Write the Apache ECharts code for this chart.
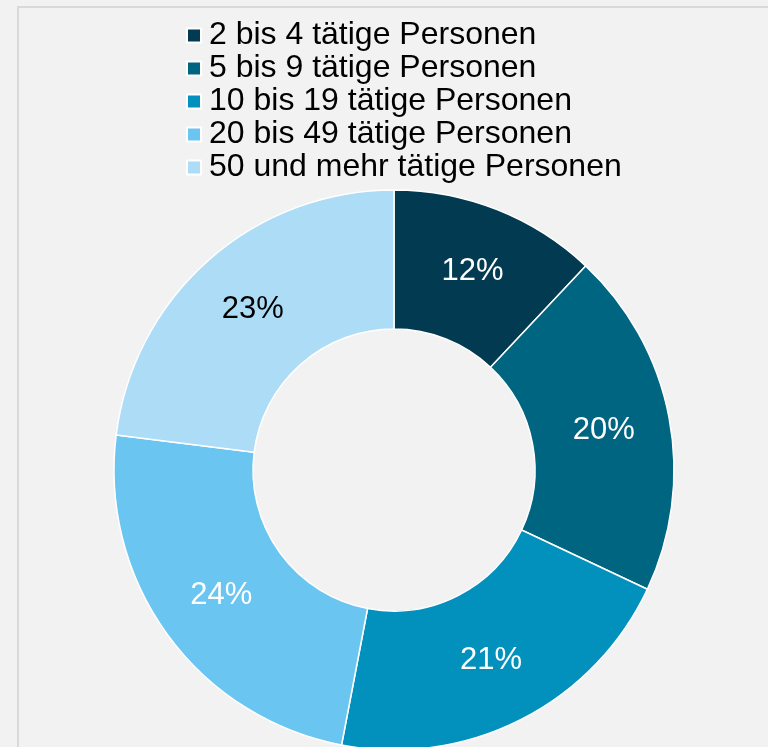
<!DOCTYPE html>
<html>
<head>
<meta charset="utf-8">
<script src="https://cdn.jsdelivr.net/npm/echarts@6/dist/echarts.min.js"></script>
<style>
  html, body { margin: 0; padding: 0; background: #f2f2f2; }
  #frame {
    position: absolute; left: 17px; top: 6px;
    width: 760px; height: 760px;
    border-top: 2px solid #d9d9d9; border-left: 2px solid #d9d9d9;
  }
  #chart { position: absolute; left: 0; top: 0; width: 768px; height: 747px; }
</style>
</head>
<body>
<div id="frame"></div>
<div id="chart"></div>
<script>
// Anteile nach Betriebsgröße (Prozent)
var categories = [
  '2 bis 4 tätige Personen',
  '5 bis 9 tätige Personen',
  '10 bis 19 tätige Personen',
  '20 bis 49 tätige Personen',
  '50 und mehr tätige Personen'
];
var shares = [12, 20, 21, 24, 23];
var colors = ['#023b51', '#006580', '#0291bc', '#6ac5f1', '#addcf6'];
var labelColors = ['#ffffff', '#ffffff', '#ffffff', '#ffffff', '#000000'];

var myChart = echarts.init(document.getElementById('chart'));

var data = [];
for (var i = 0; i < categories.length; i++) {
  data.push({
    name: categories[i],
    value: shares[i],
    itemStyle: { color: colors[i] },
    label: { color: labelColors[i] }
  });
}

var option = {
  backgroundColor: 'transparent',
  animation: false,
  legend: {
    orient: 'vertical',
    left: 186,
    top: 19,
    padding: 0,
    itemGap: 0,
    itemWidth: 14,
    itemHeight: 14,
    icon: 'rect',
    selectedMode: false,
    textStyle: {
      fontFamily: 'Liberation Sans, Arial, sans-serif',
      fontSize: 32,
      lineHeight: 33,
      color: '#000',
      padding: [0, 0, 0, 3]
    },
    data: categories
  },
  series: [{
    type: 'pie',
    center: [394, 470],
    radius: [141, 280],
    startAngle: 90,
    clockwise: true,
    itemStyle: { borderColor: '#ffffff', borderWidth: 1.5 },
    label: {
      show: true,
      position: 'inside',
      formatter: '{c}%',
      fontFamily: 'Liberation Sans, Arial, sans-serif',
      fontSize: 31
    },
    labelLine: { show: false },
    emphasis: { disabled: true },
    data: data
  }]
};

option && myChart.setOption(option);
</script>
</body>
</html>
